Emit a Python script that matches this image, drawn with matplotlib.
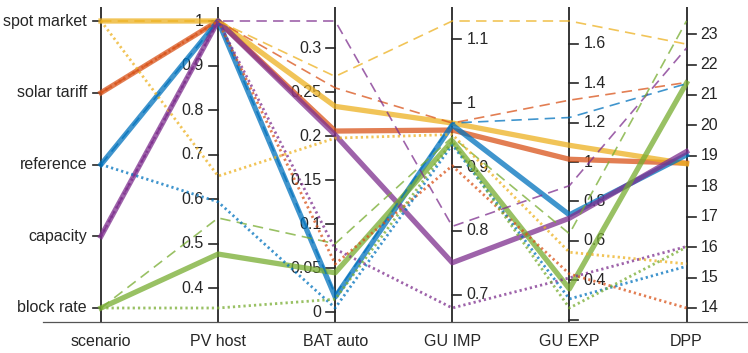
import matplotlib
matplotlib.use('Agg')
import matplotlib.pyplot as plt
import numpy as np

plt.rcParams['font.family'] = ['Liberation Sans', 'DejaVu Sans']
plt.rcParams['lines.scale_dashes'] = False

# ---------------- data ----------------
axis_names = ['scenario', 'PV host', 'BAT auto', 'GU IMP', 'GU EXP', 'DPP']
scenario_levels = ['block rate', 'capacity', 'reference', 'solar tariff', 'spot market']  # bottom -> top

line_scenario = (['spot market'] * 3 + ['solar tariff'] * 3 + ['reference'] * 3
                 + ['capacity'] * 3 + ['block rate'] * 3)
line_style = ['solid', 'dashed', 'dotted'] * 5

pv_host = [1.0, 1.0, 0.652, 1.0, 1.0, 1.0, 1.0, 1.0, 0.594, 1.0, 1.0, 1.0, 0.477, 0.558, 0.356]
bat_auto = [0.234, 0.268, 0.198, 0.206, 0.255, 0.055, 0.0175, 0.020, 0.005,
            0.2015, 0.331, 0.072, 0.045, 0.078, 0.015]
gu_imp = [0.969, 1.129, 0.951, 0.958, 0.969, 0.902, 0.966, 0.969, 0.935,
          0.750, 0.807, 0.679, 0.941, 0.947, 0.940]
gu_exp = [1.085, 1.716, 0.542, 1.014, 1.314, 0.432, 0.732, 1.226, 0.305,
          0.715, 0.880, 0.412, 0.356, 0.636, 0.259]
dpp = [18.74, 22.67, 15.45, 18.76, 21.41, 14.00, 19.03, 21.37, 15.37,
       19.14, 22.54, 16.02, 21.39, 23.43, 16.00]

pv_ticks = [0.4, 0.5, 0.6, 0.7, 0.8, 0.9, 1.0]
pv_labels = ['0.4', '0.5', '0.6', '0.7', '0.8', '0.9', '1']
bat_ticks = [0.0, 0.05, 0.1, 0.15, 0.2, 0.25, 0.3]
bat_labels = ['0', '0.05', '0.1', '0.15', '0.2', '0.25', '0.3']
imp_ticks = [0.7, 0.8, 0.9, 1.0, 1.1]
imp_labels = ['0.7', '0.8', '0.9', '1', '1.1']
exp_ticks = [0.2, 0.4, 0.6, 0.8, 1.0, 1.2, 1.4, 1.6]
exp_labels = ['', '0.4', '0.6', '0.8', '1', '1.2', '1.4', '1.6']
dpp_ticks = [14, 15, 16, 17, 18, 19, 20, 21, 22, 23]
dpp_labels = ['14', '15', '16', '17', '18', '19', '20', '21', '22', '23']

colors = {
    'spot market': '#EDB120',
    'solar tariff': '#D95319',
    'reference': '#0072BD',
    'capacity': '#7E2F8E',
    'block rate': '#77AC30',
}

# ---------------- figure ----------------
W, H = 748, 353
fig = plt.figure(figsize=(W / 100, H / 100), dpi=100)
ax = fig.add_axes([0, 0, 1, 1])
x0_px, dx_px = 101.0, 117.1
ax.set_xlim(-x0_px / dx_px, (W - x0_px) / dx_px)
ybot_px, ytop_px = 45.0, 332.0  # pixel rows (from bottom) of normalised 0 and 1
yr = (ytop_px - ybot_px)
ax.set_ylim(-ybot_px / yr, (H - ybot_px) / yr)
ax.set_axis_off()

def px_x(p):
    return p / dx_px

def px_y(p_from_bottom):
    return (p_from_bottom - ybot_px) / yr

numeric_cols = [pv_host, bat_auto, gu_imp, gu_exp, dpp]
tick_sets = [(pv_ticks, pv_labels), (bat_ticks, bat_labels), (imp_ticks, imp_labels),
             (exp_ticks, exp_labels), (dpp_ticks, dpp_labels)]

mins = [min(c) for c in numeric_cols]
maxs = [max(c) for c in numeric_cols]

def norm(k, v):
    return (v - mins[k]) / (maxs[k] - mins[k])

n_lines = len(line_scenario)
scen_norm = [scenario_levels.index(s) / (len(scenario_levels) - 1) for s in line_scenario]
Y = np.array([[scen_norm[i]] + [norm(k, numeric_cols[k][i]) for k in range(5)]
              for i in range(n_lines)])
X = np.arange(len(axis_names))

ink = '#262626'
y_lo, y_hi = px_y(31), px_y(346)
fs = 11.5

# axis lines
for xi in X:
    ax.plot([xi, xi], [y_lo, y_hi], color=ink, lw=1.3, zorder=1, solid_capstyle='butt')
ax.plot([px_x(43 - x0_px), X[-1] + 1], [y_lo, y_lo], color='#555555', lw=0.9, zorder=1)

# scenario axis ticks
for j, lab in enumerate(scenario_levels):
    yn = j / (len(scenario_levels) - 1)
    ax.plot([-px_x(8), 0], [yn, yn], color=ink, lw=1.2, zorder=1)
    ax.text(-px_x(14), yn, lab, ha='right', va='center', fontsize=fs, color=ink, zorder=1)

# numeric axis ticks
for k in range(5):
    xi = X[k + 1]
    left = (k + 1) <= 2
    ticks, labels = tick_sets[k]
    for t, lab in zip(ticks, labels):
        yn = norm(k, t)
        if left:
            ax.plot([xi - px_x(9), xi], [yn, yn], color=ink, lw=1.2, zorder=1)
            ax.text(xi - px_x(14), yn, lab, ha='right', va='center', fontsize=fs, color=ink, zorder=1)
        else:
            ax.plot([xi, xi + px_x(9)], [yn, yn], color=ink, lw=1.2, zorder=1)
            ax.text(xi + px_x(14), yn, lab, ha='left', va='center', fontsize=fs, color=ink, zorder=1)

# axis names
for xi, name in zip(X, axis_names):
    ax.text(xi, px_y(353 - 341.7), name, ha='center', va='center', fontsize=fs, color=ink)

# data lines
style_kw = {
    'solid': dict(lw=3.8, linestyle='-'),
    'dashed': dict(lw=1.2, linestyle=(0, (7.5, 4.5))),
    'dotted': dict(lw=2.0, linestyle=(0, (1.6, 2.2))),
}
draw_order = ['solar tariff', 'spot market', 'reference', 'capacity', 'block rate']
z = 3
for st in ['solid', 'dashed', 'dotted']:
    for sc in draw_order:
        for i in range(n_lines):
            if line_scenario[i] == sc and line_style[i] == st:
                ax.plot(X, Y[i], color=colors[sc], alpha=0.75, zorder=z,
                        solid_joinstyle='round', **style_kw[st])
                z += 1

fig.savefig('out.png', dpi=100)
